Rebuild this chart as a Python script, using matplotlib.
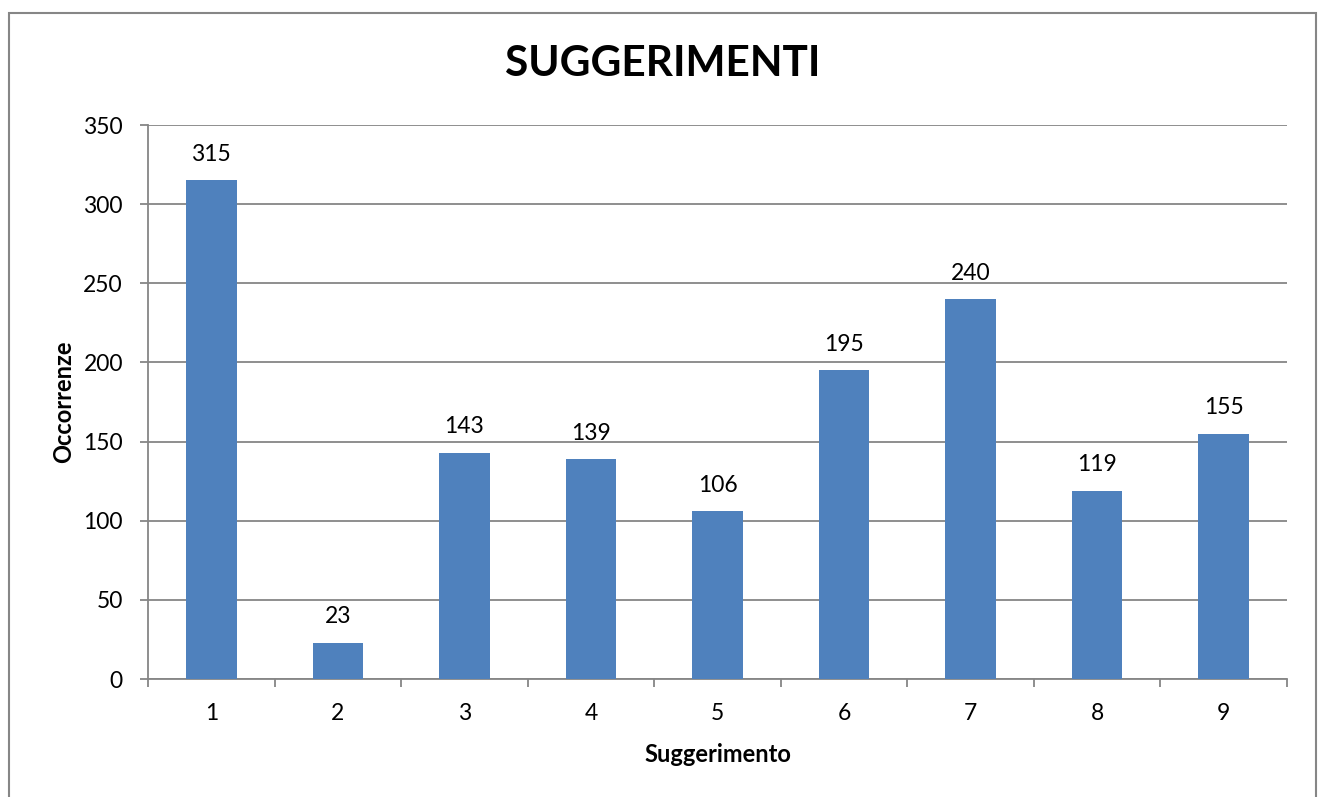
import matplotlib
matplotlib.use("Agg")
import matplotlib.pyplot as plt
from matplotlib.patches import Rectangle
from matplotlib.ticker import FixedLocator

categories = ["1", "2", "3", "4", "5", "6", "7", "8", "9"]
values = [315, 23, 143, 139, 106, 195, 240, 119, 155]
yticks = [0, 50, 100, 150, 200, 250, 300, 350]

plt.rcParams['font.family'] = ['Lato', 'DejaVu Sans']

W, H = 1319, 797
fig = plt.figure(figsize=(W / 100, H / 100), dpi=100)
ax = fig.add_axes([148 / W, 1 - 679 / H, (1287 - 148) / W, (679 - 125) / H])

grey = "#868686"
x = list(range(len(categories)))
ax.bar(x, values, width=0.4, color="#4F81BD", zorder=3)
ax.set_xlim(-0.5, len(categories) - 0.5)
ax.set_ylim(0, 350)
ax.set_yticks(yticks)
ax.grid(axis="y", color=grey, linewidth=1.3, zorder=0)
ax.set_xticks(x)
ax.set_xticklabels(categories)
ax.xaxis.set_minor_locator(FixedLocator([i - 0.5 for i in range(len(categories) + 1)]))
ax.tick_params(axis="x", which="major", length=0, labelsize=16.5, pad=17)
ax.tick_params(axis="x", which="minor", length=6, width=1.3, color=grey)
ax.tick_params(axis="y", length=6, width=1.3, color=grey, labelsize=16.5, pad=12)
for s in ["top", "right"]:
    ax.spines[s].set_visible(False)
for s in ["left", "bottom"]:
    ax.spines[s].set_color(grey)
    ax.spines[s].set_linewidth(1.3)

for xi, v in zip(x, values):
    ax.annotate(str(v), (xi, v), xytext=(0, 11), textcoords="offset points",
                ha="center", va="bottom", fontsize=16.5)

ax.set_xlabel("Suggerimento", fontsize=17, fontweight="bold", labelpad=14)
ax.set_ylabel("Occorrenze", fontsize=17, fontweight="bold", labelpad=6)
fig.text(663 / W, 1 - 64 / H, "SUGGERIMENTI", ha="center", va="center",
         fontsize=30.5, fontweight="bold")

fig.patches.append(Rectangle((9 / W, -0.1), (1316 - 9) / W, 1.1 - 13 / H,
                             transform=fig.transFigure, fill=False,
                             edgecolor=grey, linewidth=1.5))

fig.savefig("out.png", dpi=100)
